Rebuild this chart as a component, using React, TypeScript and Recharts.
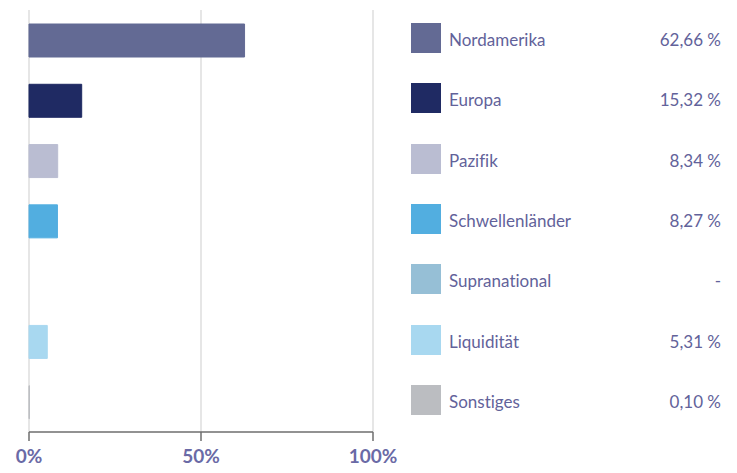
import React from "react";
import { BarChart, Bar, XAxis, YAxis, CartesianGrid, Cell } from "recharts";

const categories = ["Nordamerika", "Europa", "Pazifik", "Schwellenländer", "Supranational", "Liquidität", "Sonstiges"];
const values: (number | null)[] = [62.66, 15.32, 8.34, 8.27, null, 5.31, 0.1];
const valueLabels = ["62,66 %", "15,32 %", "8,34 %", "8,27 %", "-", "5,31 %", "0,10 %"];
const colors = ["#636a94", "#1f2a63", "#babdd2", "#52aee0", "#96bfd6", "#a8d8f0", "#bbbdc1"];
const xTicks = [0, 50, 100];

const data = categories.map((c, i) => ({ name: c, value: values[i] }));

const TEXT = "#62629a";
const FONT = "Lato, 'Noto Sans', sans-serif";

const W = 737;
const H = 473;
const TOP = 10;
const BOTTOM = 432;
const band = (BOTTOM - TOP) / categories.length;

export default function App() {
  return (
    <div
      style={{
        position: "absolute",
        left: 0,
        top: 0,
        width: W,
        height: H,
        background: "#fff",
        fontFamily: FONT,
        fontVariantLigatures: "none",
      }}
    >
      <BarChart
        width={W}
        height={H}
        data={data}
        layout="vertical"
        margin={{ top: TOP, right: W - 373, bottom: 11, left: 29 }}
        barCategoryGap={0}
      >
        <CartesianGrid horizontal={false} vertical={true} stroke="#e6e6e6" strokeWidth={2} />
        <XAxis
          type="number"
          domain={[0, 100]}
          ticks={xTicks}
          tickFormatter={(v) => `${v}%`}
          height={30}
          axisLine={{ stroke: "#6e6e6e", strokeWidth: 1.5 }}
          tickLine={{ stroke: "#6e6e6e", strokeWidth: 1.5 }}
          tickSize={9}
          tickMargin={9}
          tick={{ fill: "#6a6aa6", fontSize: 19, fontWeight: 700, fontFamily: FONT }}
          interval={0}
        />
        <YAxis type="category" dataKey="name" hide />
        <Bar dataKey="value" barSize={33} isAnimationActive={false}>
          {data.map((d, i) => (
            <Cell key={d.name} fill={colors[i]} stroke={colors[i]} strokeWidth={1} />
          ))}
        </Bar>
      </BarChart>
      {categories.map((c, i) => {
        const cy = TOP + band * (i + 0.5);
        return (
          <div key={c}>
            <div
              style={{ position: "absolute", left: 411, top: cy - 17, width: 30, height: 30, background: colors[i] }}
            />
            <div
              style={{
                position: "absolute",
                left: 449,
                top: cy - 10,
                height: 20,
                lineHeight: "20px",
                fontSize: 17,
                color: TEXT,
                whiteSpace: "nowrap",
              }}
            >
              {c}
            </div>
            <div
              style={{
                position: "absolute",
                right: W - 721,
                top: cy - 10,
                height: 20,
                lineHeight: "20px",
                fontSize: 17,
                color: TEXT,
                whiteSpace: "nowrap",
                textAlign: "right",
              }}
            >
              {valueLabels[i]}
            </div>
          </div>
        );
      })}
    </div>
  );
}
